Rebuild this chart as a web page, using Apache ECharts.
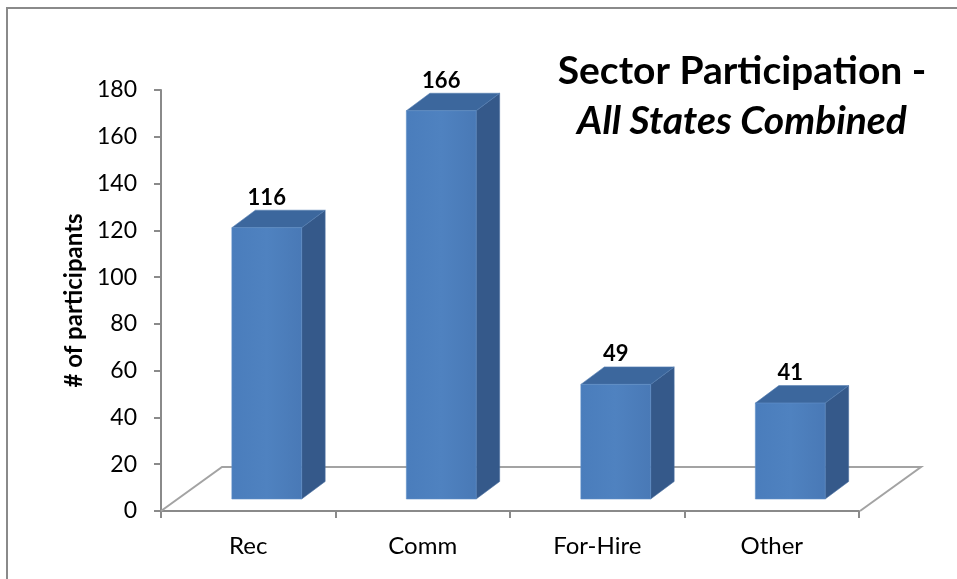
<!DOCTYPE html>
<html>
<head>
<meta charset="utf-8">
<script src="https://cdn.jsdelivr.net/npm/echarts@6/dist/echarts.min.js"></script>
<style>
html,body{margin:0;padding:0;background:#fff;}
#chart{width:957px;height:579px;}
</style>
</head>
<body>
<div id="chart"></div>
<script>
const categories = ['Rec', 'Comm', 'For-Hire', 'Other'];
const participants = [116, 166, 49, 41];
const yTicks = [0, 20, 40, 60, 80, 100, 120, 140, 160, 180];

const FONT = 'Lato, "Open Sans", sans-serif';
const chart = echarts.init(document.getElementById('chart'));

// pseudo-3D geometry (pixels)
const FRONT_DX = 18.5, FRONT_DY = -12;   // bar front face offset from axis plane
const DEPTH_DX = 23.5, DEPTH_DY = -17.5; // bar depth
const FLOOR_DX = 61, FLOOR_DY = -44;     // floor depth

function floorItem(params, api) {
  const cs = params.coordSys;
  const x0 = cs.x, x1 = cs.x + cs.width, yb = cs.y + cs.height;
  return {
    type: 'polyline',
    shape: { points: [[x0, yb], [x0 + FLOOR_DX, yb + FLOOR_DY], [x1 + FLOOR_DX + 1, yb + FLOOR_DY], [x1 + 1, yb]] },
    style: { stroke: '#a3a3a3', lineWidth: 2, fill: null },
    silent: true
  };
}

function barItem(params, api) {
  const idx = api.value(0), val = api.value(1);
  const base = api.coord([idx, 0]);
  const top = api.coord([idx, val]);
  const band = api.size([1, 0])[0];
  const w = band * 0.4;
  const cx = base[0] + FRONT_DX;
  const xl = cx - w / 2, xr = cx + w / 2;
  const yb = base[1] + FRONT_DY, yt = top[1] + FRONT_DY;
  return {
    type: 'group',
    children: [
      { type: 'polygon', shape: { points: [[xr, yt], [xr + DEPTH_DX, yt + DEPTH_DY], [xr + DEPTH_DX, yb + DEPTH_DY], [xr, yb]] },
        style: { fill: '#35598a', stroke: '#4a6f9f', lineWidth: 0.6 } },
      { type: 'polygon', shape: { points: [[xl, yt], [xl + DEPTH_DX, yt + DEPTH_DY], [xr + DEPTH_DX, yt + DEPTH_DY], [xr, yt]] },
        style: { fill: '#3c679d', stroke: '#5580b4', lineWidth: 0.6 } },
      { type: 'rect', shape: { x: xl, y: yt, width: w, height: yb - yt },
        style: { fill: new echarts.graphic.LinearGradient(0, 0, 1, 0, [
          { offset: 0, color: '#4a7dbc' }, { offset: 0.5, color: '#4f82c0' }, { offset: 1, color: '#4979b6' }]),
          stroke: '#5f8fc8', lineWidth: 0.6 } },
      { type: 'text', style: { text: String(val), x: cx, y: yt - 19, align: 'center', verticalAlign: 'bottom',
          font: 'bold 22px ' + FONT, fill: '#000' } }
    ]
  };
}

chart.setOption({
  backgroundColor: '#fff',
  animation: false,
  graphic: [{
    type: 'rect', shape: { x: 7, y: 8, width: 1000, height: 700 },
    style: { fill: null, stroke: '#8a8a8a', lineWidth: 2 }, silent: true, z: 0
  }],
  title: {
    text: '{a|Sector Participation -}\n{b|All States Combined}',
    left: 737, top: 41, textAlign: 'center',
    textStyle: {
      rich: {
        a: { fontFamily: FONT, fontWeight: 'bold', fontSize: 39, lineHeight: 50, color: '#000' },
        b: { fontFamily: FONT, fontWeight: 'bold', fontStyle: 'italic', fontSize: 39, lineHeight: 50, color: '#000' }
      }
    }
  },
  grid: { left: 161, right: 98, top: 90, bottom: 68 },
  xAxis: {
    type: 'category', data: categories, boundaryGap: true,
    axisLine: { lineStyle: { color: '#8a8a8a', width: 2 } },
    axisTick: { show: true, length: 7, lineStyle: { color: '#8a8a8a', width: 2 } },
    axisLabel: { color: '#000', fontFamily: FONT, fontSize: 24, margin: 23 },
    splitLine: { show: false }
  },
  yAxis: {
    type: 'value', min: 0, max: 180, interval: 20,
    name: '# of participants', nameLocation: 'middle', nameRotate: 90, nameGap: 74,
    nameTextStyle: { fontFamily: FONT, fontWeight: 'bold', fontSize: 24, color: '#000' },
    axisLine: { show: true, lineStyle: { color: '#8a8a8a', width: 2 } },
    axisTick: { show: true, length: 7, lineStyle: { color: '#8a8a8a', width: 2 } },
    axisLabel: { color: '#000', fontFamily: FONT, fontSize: 23, margin: 24,
      formatter: v => yTicks.indexOf(v) >= 0 ? String(v) : '' },
    splitLine: { show: false }
  },
  series: [
    { type: 'custom', renderItem: floorItem, data: [[0, 0]], z: 1, silent: true },
    { type: 'custom', renderItem: barItem, data: categories.map((c, i) => [i, participants[i]]), z: 5 }
  ]
});
</script>
</body>
</html>
